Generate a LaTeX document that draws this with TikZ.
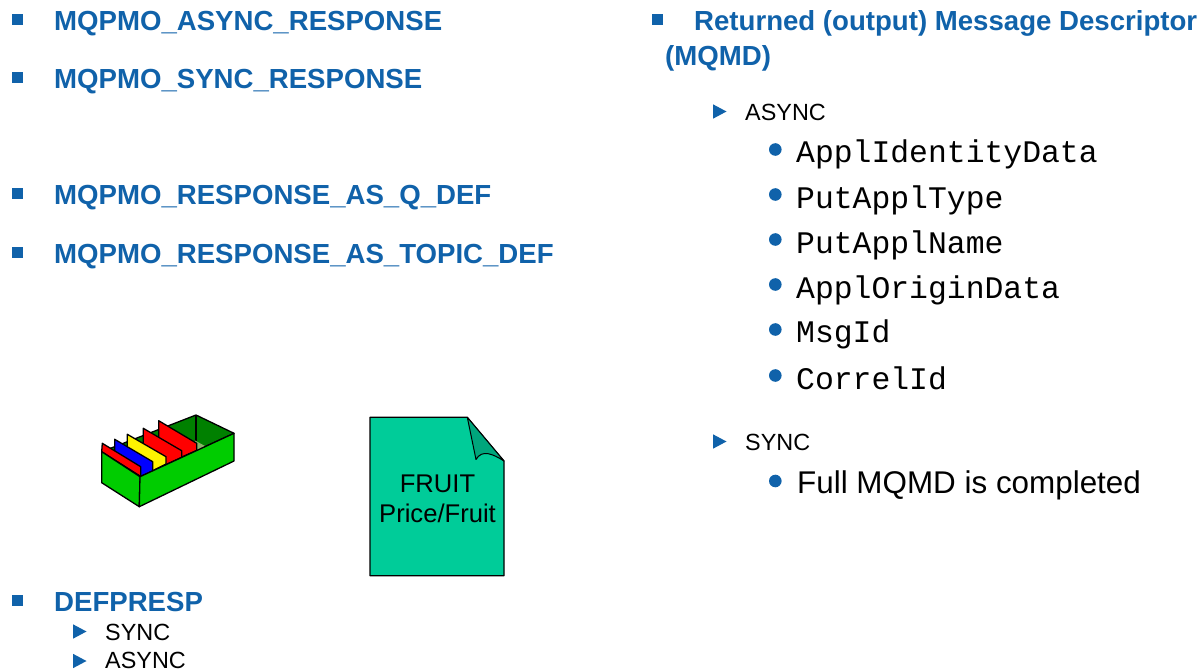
\documentclass[tikz,border=0pt]{standalone}
\usepackage{fontspec}
\setmainfont{Liberation Sans}
\newfontfamily\cmono{Liberation Mono}
\definecolor{ibmblue}{HTML}{1062AA}
\definecolor{docgreen}{HTML}{00CC99}
\definecolor{docfold}{HTML}{00A67C}
\definecolor{boxgreen}{HTML}{00CC00}
\definecolor{boxdark}{HTML}{008000}
\definecolor{boxfloor}{HTML}{8DB36B}
\tikzset{
 x=1pt,y=-1pt,
 head/.style={anchor=base west,inner sep=0pt,font=\fontsize{27.6}{31}\selectfont\bfseries,text=ibmblue},
 subtxt/.style={anchor=base west,inner sep=0pt,font=\fontsize{23.4}{27}\selectfont,text=black},
 monotxt/.style={anchor=base west,inner sep=0pt,font=\fontsize{31.4}{35}\cmono,text=black},
 bigtxt/.style={anchor=base west,inner sep=0pt,font=\fontsize{31.4}{35}\selectfont,text=black},
 sq/.style={fill=ibmblue,draw=none},
 tri/.style={fill=ibmblue,draw=none},
 dotb/.style={fill=ibmblue,draw=none},
 boxline/.style={draw=black,line width=1.3pt,line join=round},
}
\newcommand{\sqb}[2]{\fill[sq] (#1,#2) rectangle ++(11,11);}
\newcommand{\trib}[2]{\fill[tri] (#1,#2) -- ++(13.5,7.2) -- ++(-13.5,7.2) -- cycle;}
\newcommand{\dotbl}[2]{\fill[dotb] (#1,#2) circle (6.3);}
\begin{document}
\begin{tikzpicture}
\useasboundingbox (0,0) rectangle (1203,670);
% left list
\sqb{11.5}{14}\node[head] (h1) at (54,30) {MQPMO\_ASYNC\_RESPONSE};
\sqb{11.5}{72}\node[head] (h2) at (54,88) {MQPMO\_SYNC\_RESPONSE};
\sqb{11.5}{188}\node[head] (h3) at (54,204) {MQPMO\_RESPONSE\_AS\_Q\_DEF};
\sqb{11.5}{247}\node[head] (h4) at (54,263) {MQPMO\_RESPONSE\_AS\_TOPIC\_DEF};
\sqb{11.5}{595}\node[head] (h5) at (54,611) {DEFPRESP};
\trib{73}{624.3}\node[subtxt] (s1) at (105,640) {SYNC};
\trib{73}{653.8}\node[subtxt] (s2) at (105,668) {ASYNC};
% right list
\sqb{652}{14}\node[head] (r1) at (694,30) {Returned (output) Message Descriptor};
\node[head] (r1b) at (665,65) {(MQMD)};
\trib{713}{104.3}\node[subtxt] (a1) at (745,120) {ASYNC};
\dotbl{775.3}{149.5}\node[monotxt] (m1) at (796,162) {ApplIdentityData};
\dotbl{775.3}{194.5}\node[monotxt] (m2) at (796,208) {PutApplType};
\dotbl{775.3}{239.5}\node[monotxt] (m3) at (796,253) {PutApplName};
\dotbl{775.3}{284.5}\node[monotxt] (m4) at (796,298) {ApplOriginData};
\dotbl{775.3}{329.5}\node[monotxt] (m5) at (796,342) {MsgId};
\dotbl{775.3}{375.5}\node[monotxt] (m6) at (796,389) {CorrelId};
\trib{713}{434.3}\node[subtxt] (a2) at (745,450) {SYNC};
\dotbl{775.3}{481}\node[bigtxt] (b1) at (797,493) {Full MQMD is completed};
% card box
\filldraw[boxline,fill=boxdark] (101.7,451.7) -- (196,415) -- (234,433.3) -- (140,476.7) -- cycle;
\draw[boxline] (196,415) -- (196,442);
\fill[boxfloor] (195,440.5) -- (205,446) -- (197,450) -- (192,447) -- cycle;
\filldraw[boxline,fill=red] (158.7,420.7) -- (196.7,443.3) -- (196.7,450.4) -- (175,460) -- (158.7,445) -- cycle;
\filldraw[boxline,fill=red] (143.3,428.3) -- (181.7,450.7) -- (181.7,457.3) -- (165,465) -- (143.3,450) -- cycle;
\filldraw[boxline,fill=yellow] (127.3,434.3) -- (166,456.7) -- (166,464) -- (152,471) -- (127.3,456) -- cycle;
\filldraw[boxline,fill=blue] (114.7,439.3) -- (152.7,461.7) -- (152.7,470.8) -- (140,476.7) -- (114.7,460) -- cycle;
\filldraw[boxline,fill=red] (102.3,443.3) -- (140.7,466.7) -- (140.7,476.4) -- (101.7,451.7) -- cycle;
\filldraw[boxline,fill=boxgreen] (101.7,451.7) -- (140,476.7) -- (139.3,506.7) -- (101.7,482.7) -- cycle;
\filldraw[boxline,fill=boxgreen] (140,476.7) -- (234,433.3) -- (234,461) -- (139.3,506.7) -- cycle;
% document
\filldraw[draw=black,line width=1.2pt,fill=docgreen,line join=round] (370,417.3) -- (467.3,417.3) -- (504,461) -- (504,575.7) -- (370,575.7) -- cycle;
\filldraw[draw=black,line width=1pt,fill=docfold,line join=round] (467.3,417.3) -- (476,459.5) .. controls (482,449) and (493,454) .. (504,461) -- cycle;
\node[inner sep=0pt,align=center,font=\fontsize{25.6}{30}\selectfont,text=black] (doc) at (437.5,498.5) {FRUIT\\Price/Fruit};
\end{tikzpicture}
\end{document}
